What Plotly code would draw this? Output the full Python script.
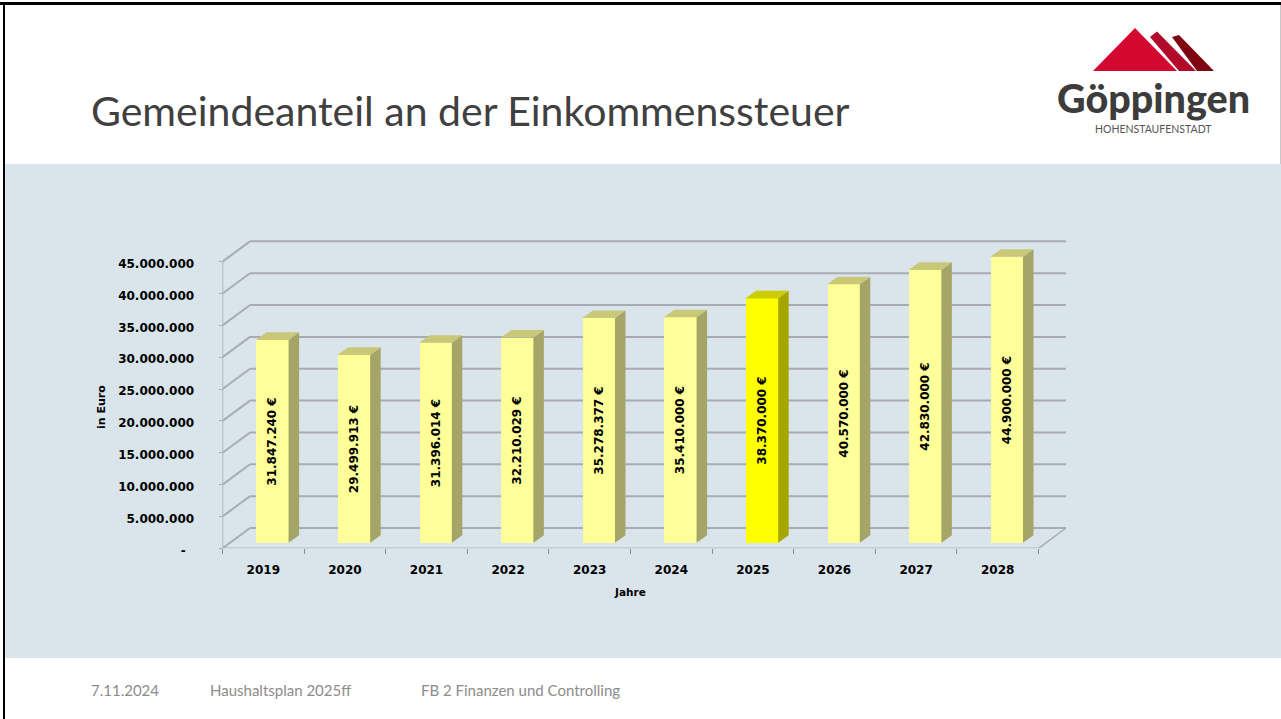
import plotly.graph_objects as go

years = ["2019", "2020", "2021", "2022", "2023", "2024", "2025", "2026", "2027", "2028"]
values = [31847240, 29499913, 31396014, 32210029, 35278377, 35410000, 38370000, 40570000, 42830000, 44900000]
value_labels = ["31.847.240 €", "29.499.913 €", "31.396.014 €", "32.210.029 €", "35.278.377 €",
                "35.410.000 €", "38.370.000 €", "40.570.000 €", "42.830.000 €", "44.900.000 €"]
grid_values = [0, 5000000, 10000000, 15000000, 20000000, 25000000, 30000000, 35000000, 40000000, 45000000]
grid_labels = ["-\u00a0\u00a0", "5.000.000", "10.000.000", "15.000.000", "20.000.000", "25.000.000",
               "30.000.000", "35.000.000", "40.000.000", "45.000.000"]
highlight_year = "2025"

W, H = 1281, 719
X0, XSTEP = 222.5, 81.6        # pixel position of category 0, pixels per category
Y0, YSCALE = 548.3, 6.37 / 1e6  # pixel position of value 0, pixels per euro
XEND, YTOP = 1070.0, 236.0     # plot area limits

WALL_DX = 27.5 / XSTEP
WALL_DY = 20.3 / YSCALE
BAR_W = 32.6 / XSTEP
BAR_X = 0.61
BAR_BASE = 5.5 / YSCALE
BAR_DX = 10.5 / XSTEP
BAR_DY = 7.6 / YSCALE

FONT = "DejaVu Sans"
SLIDE = "Lato"
GRID = "#a8acb2"

fig = go.Figure()

# front faces
centers = [i + BAR_X for i in range(len(years))]
fig.add_trace(go.Bar(
    x=centers, y=values, base=BAR_BASE, width=BAR_W,
    marker=dict(color=["#ffff00" if y == highlight_year else "#ffff99" for y in years], line=dict(width=0)),
    text=value_labels, textposition="inside", textangle=-90, insidetextanchor="middle",
    constraintext="none", cliponaxis=False,
    textfont=dict(family=FONT, size=12, color="#000000", weight="bold"),
    showlegend=False, hoverinfo="skip",
))

# side and top faces of each bar
for yr, c, v in zip(years, centers, values):
    hot = yr == highlight_year
    l, r, b, t = c - BAR_W / 2, c + BAR_W / 2, BAR_BASE, BAR_BASE + v
    fig.add_trace(go.Scatter(
        x=[r, r + BAR_DX, r + BAR_DX, r, r], y=[b, b + BAR_DY, t + BAR_DY, t, b],
        mode="lines", fill="toself", line=dict(width=0),
        fillcolor="#a6a600" if hot else "#a5a568", showlegend=False, hoverinfo="skip",
    ))
    fig.add_trace(go.Scatter(
        x=[l, l + BAR_DX, r + BAR_DX, r, l], y=[t, t + BAR_DY, t + BAR_DY, t, t],
        mode="lines", fill="toself", line=dict(width=0),
        fillcolor="#cccc00" if hot else "#c8c878", showlegend=False, hoverinfo="skip",
    ))

shapes = []
def seg(x0, y0, x1, y1, w=2.0, color=GRID):
    shapes.append(dict(type="line", xref="x", yref="y", x0=x0, y0=y0, x1=x1, y1=y1,
                       line=dict(color=color, width=w), layer="below"))

n = len(years)
for g in grid_values:
    seg(0, g, WALL_DX, g + WALL_DY)
    seg(WALL_DX, g + WALL_DY, n + WALL_DX, g + WALL_DY)
seg(0, 0, 0, grid_values[-1], 1.5)
seg(0, 0, n, 0, 1.5, "#b4b8bc")
seg(n, 0, n + WALL_DX, WALL_DY, 1.5)

def pxpoly(pts, color):
    path = "M " + " L ".join(f"{x/W:.5f},{1-y/H:.5f}" for x, y in pts) + " Z"
    return dict(type="path", xref="paper", yref="paper", path=path, fillcolor=color,
                line=dict(width=0), layer="below")

def rect(x0, y0, x1, y1, color):
    return dict(type="rect", xref="paper", yref="paper", x0=x0/W, x1=x1/W, y0=1-y0/H, y1=1-y1/H,
                fillcolor=color, line=dict(width=0), layer="below")

page = [
    rect(5, 164, 1281, 658, "#d9e4eb"),
    rect(0, 2, 1281, 5, "#000000"),
    rect(3, 2, 5, 719, "#000000"),
    rect(1280, 5, 1281, 164, "#c8c8c8"),
    pxpoly([(1135, 28), (1177, 71), (1093, 71)], "#d3072f"),
    pxpoly([(1150, 37), (1157, 31.5), (1196, 71), (1179, 71)], "#b20a2a"),
    pxpoly([(1172, 37), (1179, 35), (1214, 71), (1197, 71)], "#7e0613"),
]

def note(text, x, y, size, color, family=SLIDE, weight=None, xanchor="left", angle=0):
    return dict(text=text, x=x/W, y=1-y/H, xref="paper", yref="paper", showarrow=False,
                xanchor=xanchor, yanchor="middle", textangle=angle,
                font=dict(family=family, size=size, color=color, weight=weight))

notes = [
    note("Gemeindeanteil an der Einkommenssteuer", 89, 110, 41, "#404040"),
    note("Göppingen", 1153.5, 97, 39.5, "#3c3c3c", family="Lato", weight=900, xanchor="center"),
    note("HOHENSTAUFENSTADT", 1153, 129, 10.5, "#555555", xanchor="center"),
    note("7.11.2024", 89, 690, 15, "#8c8c8c"),
    note("Haushaltsplan 2025ff", 208, 690, 15, "#8c8c8c"),
    note("FB 2 Finanzen und Controlling", 419, 690, 15, "#8c8c8c"),
    note("Jahre", 630, 592, 10.5, "#000000", family=FONT, weight="bold", xanchor="center"),
    note("in Euro", 101, 407, 11, "#000000", family=FONT, weight="bold", xanchor="center", angle=-90),
]

fig.update_layout(
    width=W, height=H, autosize=False, margin=dict(l=0, r=0, t=0, b=0, autoexpand=False),
    paper_bgcolor="#ffffff", plot_bgcolor="rgba(0,0,0,0)",
    shapes=page + shapes, annotations=notes, bargap=0, showlegend=False,
    xaxis=dict(
        domain=[X0 / W, XEND / W], range=[0, (XEND - X0) / XSTEP], fixedrange=True,
        tickmode="array", tickvals=[i + 0.5 for i in range(n)], ticktext=years,
        ticks="", showgrid=False, zeroline=False, showline=False, ticklabelstandoff=13,
        tickfont=dict(family=FONT, size=12, color="#000000", weight="bold"),
        minor=dict(ticks="outside", ticklen=5, tickwidth=1, tickcolor="#8c8c8c",
                   tickvals=list(range(n + 1)), showgrid=False),
    ),
    yaxis=dict(
        domain=[1 - Y0 / H, 1 - YTOP / H], range=[0, (Y0 - YTOP) / YSCALE], fixedrange=True,
        tickmode="array", tickvals=grid_values, ticktext=grid_labels,
        ticks="outside", ticklen=3, tickcolor=GRID, showgrid=False, zeroline=False, showline=False,
        ticklabelstandoff=22, ticklabelshift=2,
        tickfont=dict(family=FONT, size=12, color="#000000", weight="bold"),
    ),
)

fig.write_html("out.html", config=dict(displayModeBar=False),
               post_script="document.body.style.margin='0';document.body.style.overflow='hidden';")
